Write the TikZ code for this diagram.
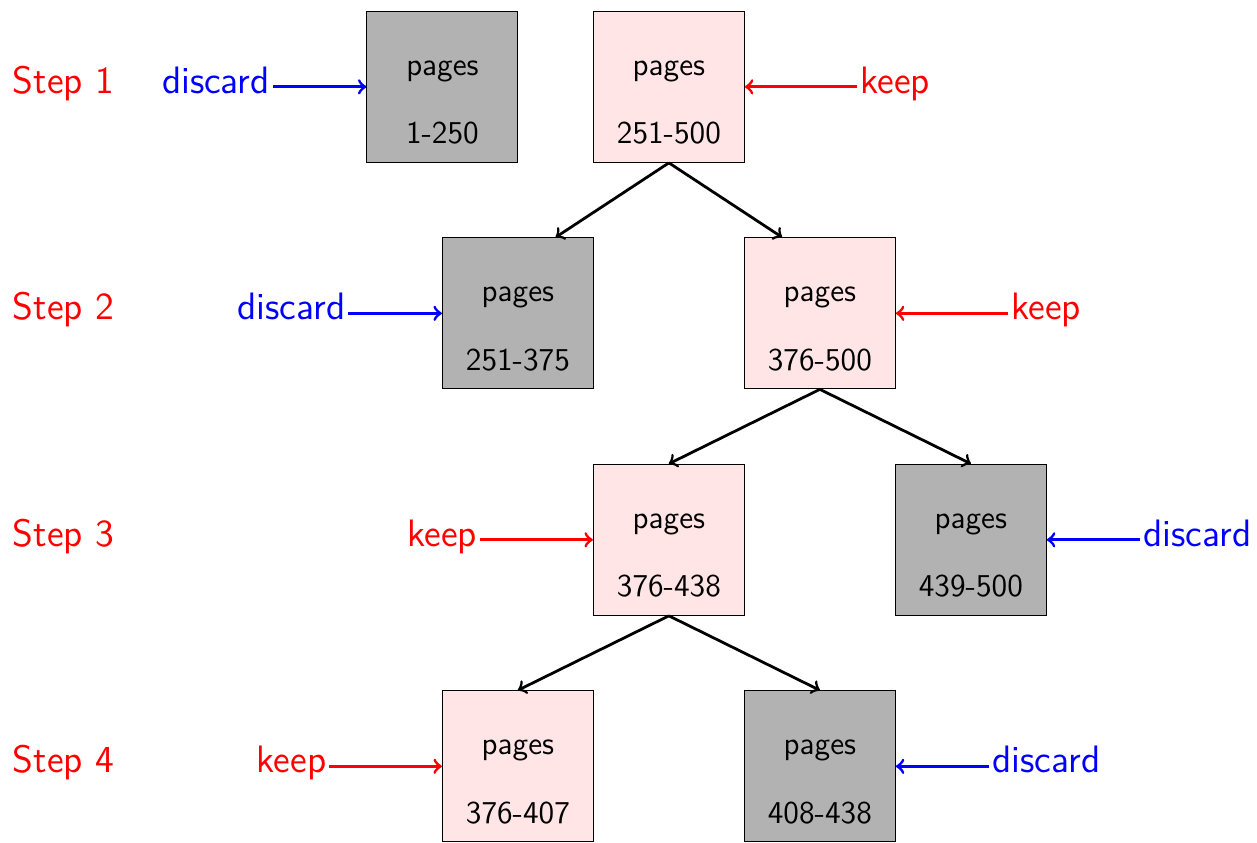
\documentclass[tikz,border=0pt]{standalone}
\usetikzlibrary{calc}
\newcommand\boxlbl[1]{\makebox[0pt]{\raisebox{0.15cm}[0pt][0pt]{pages}}\makebox[0pt]{\raisebox{-0.755cm}[0pt][0pt]{#1}}}
\tikzset{
  pagebox/.style={draw=black, minimum size=2cm, inner sep=0pt, font=\sffamily\large, text=black},
  gone/.style={pagebox, fill=black!30},
  kept/.style={pagebox, fill=red!10},
  sidetext/.style={font=\sffamily\Large, text height=10pt, text depth=5.2pt},
  steplbl/.style={sidetext, text=red, inner sep=0pt},
  keeplbl/.style={sidetext, text=red, inner sep=1pt},
  discardlbl/.style={sidetext, text=blue, inner sep=1pt},
  keeparrow/.style={->, line width=1.1pt, red},
  discardarrow/.style={->, line width=1.1pt, blue},
  treearrow/.style={->, line width=1.05pt, black}
}
\begin{document}
\begin{tikzpicture}
\useasboundingbox (0,0) rectangle (16.65,-11.166);
% step labels
\node[steplbl] (s1) at (0.84,-1.15) {Step 1};
\node[steplbl] (s2) at (0.84,-4.15) {Step 2};
\node[steplbl] (s3) at (0.84,-7.15) {Step 3};
\node[steplbl] (s4) at (0.84,-10.15) {Step 4};
% boxes
\node[gone] (b1) at (5.86,-1.15) {\boxlbl{1-250}};
\node[kept] (b2) at (8.86,-1.15) {\boxlbl{251-500}};
\node[gone] (b3) at (6.86,-4.15) {\boxlbl{251-375}};
\node[kept] (b4) at (10.86,-4.15) {\boxlbl{376-500}};
\node[kept] (b5) at (8.86,-7.15) {\boxlbl{376-438}};
\node[gone] (b6) at (12.86,-7.15) {\boxlbl{439-500}};
\node[kept] (b7) at (6.86,-10.15) {\boxlbl{376-407}};
\node[gone] (b8) at (10.86,-10.15) {\boxlbl{408-438}};
% side labels
\node[discardlbl] (l1) at (2.86,-1.15) {discard};
\node[keeplbl] (l2) at (11.86,-1.15) {keep};
\node[discardlbl] (l3) at (3.86,-4.15) {discard};
\node[keeplbl] (l4) at (13.86,-4.15) {keep};
\node[keeplbl] (l5) at (5.86,-7.15) {keep};
\node[discardlbl] (l6) at (15.86,-7.15) {discard};
\node[keeplbl] (l7) at (3.86,-10.15) {keep};
\node[discardlbl] (l8) at (13.86,-10.15) {discard};
% side arrows
\draw[discardarrow] (l1) -- (b1);
\draw[keeparrow] (l2) -- (b2);
\draw[discardarrow] (l3) -- (b3);
\draw[keeparrow] (l4) -- (b4);
\draw[keeparrow] (l5) -- (b5);
\draw[discardarrow] (l6) -- (b6);
\draw[keeparrow] (l7) -- (b7);
\draw[discardarrow] (l8) -- (b8);
% tree arrows
\draw[treearrow] (b2.south) -- ([xshift=0.5cm]b3.north);
\draw[treearrow] (b2.south) -- ([xshift=-0.5cm]b4.north);
\draw[treearrow] (b4.south) -- (b5.north);
\draw[treearrow] (b4.south) -- (b6.north);
\draw[treearrow] (b5.south) -- (b7.north);
\draw[treearrow] (b5.south) -- (b8.north);
\end{tikzpicture}
\end{document}
